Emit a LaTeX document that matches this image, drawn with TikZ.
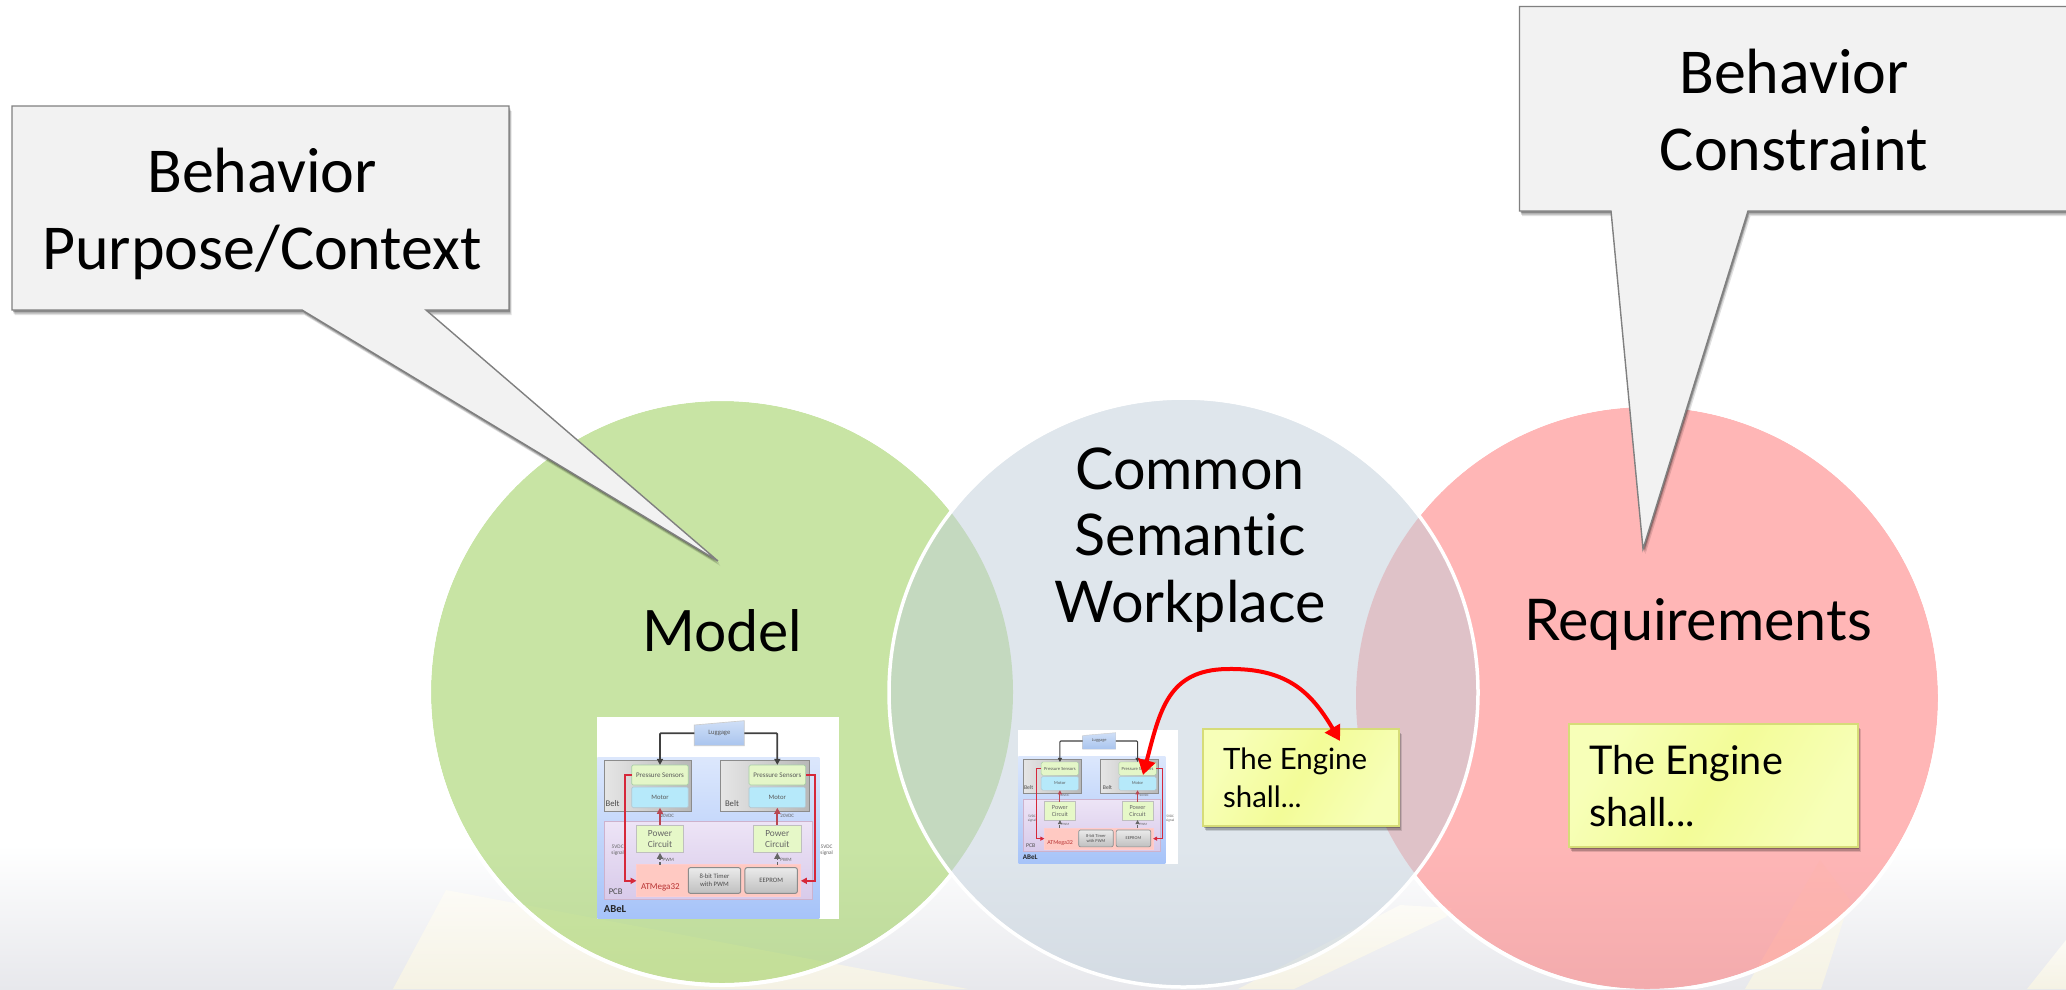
\documentclass[tikz,border=0pt]{standalone}
\usepackage{fontspec}
\usetikzlibrary{arrows.meta,shadows,calc}
\newfontfamily\calloutfont[Ligatures=NoCommon]{Carlito}
\newfontfamily\gillfont[Ligatures=NoCommon]{Lato}
\definecolor{gcirc}{HTML}{93CB4B}
\definecolor{rcirc}{HTML}{FF6F6F}
\definecolor{mcirc}{HTML}{C1CFDB}
\definecolor{paleyellow}{HTML}{F5F2E4}
\definecolor{paleyellowtop}{HTML}{FCFBF6}
\definecolor{bgbottom}{HTML}{E7E8EC}
\newcommand\abox[7]{%
  \pgfmathsetmacro\abcx{(#2+#4)/2}\pgfmathsetmacro\abcy{(#3+#5)/2}%
  \node[#6,inner sep=0pt,align=center,minimum width={(#4-#2)*1pt},minimum height={(#5-#3)*1pt}] (#1) at (\abcx,\abcy) {#7};}
\newcommand\abfont[1]{\fontsize{#1}{\the\dimexpr #1pt*12/10\relax}\selectfont}
\tikzset{
  softshadow/.style={general shadow={shadow xshift=2.5pt,shadow yshift=-5pt,fill=black,opacity=.12},
                     general shadow={shadow xshift=1.5pt,shadow yshift=-3.5pt,fill=black,opacity=.18},
                     general shadow={shadow xshift=1pt,shadow yshift=-2pt,fill=black,opacity=.25}},
  calloutshape/.style={softshadow,draw=black!50,line width=1.4pt,fill=black!5,line join=miter},
  calloutlabel/.style={font=\calloutfont,align=center,inner sep=0pt,text=black},
  circlabel/.style={font=\gillfont,align=center,inner sep=0pt,text=black},
  notebox/.style={softshadow,draw=notedge,line width=1.6pt,top color=noteA,bottom color=noteA,middle color=noteB,shading angle=60,inner sep=0pt},
  notelabel/.style={font=\gillfont,align=left,inner sep=0pt,text=black},
  yellowband/.style={top color=paleyellowtop,bottom color=paleyellow},
  ablabel/.style={font=\calloutfont,text=black!62,transform shape},
  abbelt/.style={transform shape,draw=black!45,line width=\abelk*3pt,left color=black!10,right color=black!28},
  abpress/.style={transform shape,draw=green!45!black!35,line width=\abelk*2pt,fill=abpressc,rounded corners=1.5pt,font=\calloutfont\abfont{21},text=black!65},
  abmotor/.style={transform shape,draw=cyan!40!black!35,line width=\abelk*2pt,fill=abmotorc,rounded corners=1.5pt,font=\calloutfont\abfont{20},text=black!65},
  abpower/.style={transform shape,draw=black!25,line width=\abelk*2pt,fill=abpowerc,font=\calloutfont\abfont{28},text=black!60},
  abpcb/.style={transform shape,draw=black!30!violet!30,line width=\abelk*3pt,top color=abpcbA,bottom color=abpcbB},
  abatm/.style={transform shape,draw=red!20,line width=\abelk*3pt,fill=abatmc},
  abgray/.style={transform shape,draw=black!45,line width=\abelk*3pt,top color=black!8,bottom color=black!25,rounded corners=2pt,font=\calloutfont\abfont{20},text=black!70},
  abred/.style={draw=abredc,line width=\abelk*5pt,-{Triangle[length=\abeltip,width=\abeltip]}},
  abpale/.style={draw=abredc!65!gray,line width=\abelk*5pt,-{Triangle[length=\abeltip,width=\abeltip]}},
  abblack/.style={draw=black!75,line width=\abelk*5pt,-{Triangle[length=\abeltip,width=\abeltip]}},
  abdark/.style={draw=black!60,line width=\abelk*4pt,densely dashed,-{Triangle[length=\abeltip,width=\abeltip]}},
  pics/abel/.style={code={
    \pgfmathsetlengthmacro\abeltip{\abelk*18pt}
    \fill[white] (50,50) rectangle (777,657);
    \shade[top color=abblueA,bottom color=abblueB] (52,172) rectangle (718,657);
    \abox{-belt1}{72}{182}{335}{335}{abbelt}{}
    \abox{-belt2}{423}{182}{688}{335}{abbelt}{}
    \abox{-pcb}{72}{365}{697}{600}{abpcb}{}
    \shade[top color=abluga,bottom color=ablugb,draw=black!20,line width=\abelk*2pt] (343,75) -- (493,62) -- (493,137) -- (343,137) -- cycle;
    \abox{-lug}{343}{62}{493}{137}{transform shape,font=\calloutfont\abfont{20},text=black!65}{Luggage}
    \abox{-ps1}{155}{195}{325}{255}{abpress}{Pressure Sensors}
    \abox{-ps2}{507}{195}{677}{255}{abpress}{Pressure Sensors}
    \abox{-m1}{155}{261}{325}{323}{abmotor}{Motor}
    \abox{-m2}{507}{261}{677}{323}{abmotor}{Motor}
    \abox{-pc1}{170}{375}{310}{458}{abpower}{Power\\Circuit}
    \abox{-pc2}{521}{375}{663}{458}{abpower}{Power\\Circuit}
    \abox{-atm}{170}{495}{662}{590}{abatm}{}
    \abox{-tim}{325}{503}{482}{580}{abgray}{8-bit Timer\\with PWM}
    \abox{-eep}{495}{503}{652}{580}{abgray}{EEPROM}
    \node[ablabel,font=\calloutfont\abfont{27},text=red!65!black!80] (-atl) at (241,563) {ATMega32};
    \node[ablabel,font=\calloutfont\abfont{26},text=black!70] (-bl1) at (98,312) {Belt};
    \node[ablabel,font=\calloutfont\abfont{26},text=black!70] (-bl2) at (456,312) {Belt};
    \node[ablabel,font=\calloutfont\abfont{26},text=black!70] (-pcl) at (107,576) {PCB};
    \node[ablabel,font=\calloutfont\bfseries\abfont{32},text=black!85] (-abl) at (105,628) {ABeL};
    \node[ablabel,font=\calloutfont\abfont{15}] (-v1) at (262,348) {20VDC};
    \node[ablabel,font=\calloutfont\abfont{15}] (-v2) at (622,348) {20VDC};
    \node[ablabel,font=\calloutfont\abfont{15}] (-p1) at (265,479) {PWM};
    \node[ablabel,font=\calloutfont\abfont{15}] (-p2) at (618,479) {PWM};
    \node[ablabel,font=\calloutfont\abfont{16},align=center] (-s1) at (113,451) {5VDC\\signal};
    \node[ablabel,font=\calloutfont\abfont{16},align=center] (-s2) at (740,451) {5VDC\\signal};
    \draw[abblack,rounded corners=1pt] (-lug.west) -| (-ps1.north);
    \draw[abblack,rounded corners=1pt] (-lug.east) -| (-ps2.north);
    \draw[abred] (-ps1.west) -- ++(-20,0) |- (-atm.west);
    \draw[abred] (-ps2.east) -- ++(28,0) |- (-atm.east);
    \draw[abpale] (-pc1.north) -- (-m1.south);
    \draw[abpale] (-pc2.north) -- (-m2.south);
    \draw[abdark] (-pc1.south |- -atm.north) -- (-pc1.south);
    \draw[abdark] (-pc2.south |- -atm.north) -- (-pc2.south);
  }}
}
\definecolor{notedge}{HTML}{D6DC78}
\definecolor{noteA}{HTML}{F7FFB8}
\definecolor{noteB}{HTML}{F3FC98}
\definecolor{abpressc}{HTML}{E4F6C8}
\definecolor{abmotorc}{HTML}{B6E9FA}
\definecolor{abpowerc}{HTML}{E6F8C8}
\definecolor{abpcbA}{HTML}{EDE4F6}
\definecolor{abpcbB}{HTML}{D8CAEA}
\definecolor{abatmc}{HTML}{FFC9C2}
\definecolor{abblueA}{HTML}{DCE7FC}
\definecolor{abblueB}{HTML}{A6C3F9}
\definecolor{abluga}{HTML}{CFDFF7}
\definecolor{ablugb}{HTML}{A9C4EE}
\definecolor{abredc}{HTML}{D6283A}
\begin{document}
\begin{tikzpicture}[x=1pt,y=-1pt]
\useasboundingbox (0,0) rectangle (2066,989);
\clip (0,0) rectangle (2066,989);
% background
\fill[white] (0,0) rectangle (2066,989);
\shade[top color=white,bottom color=bgbottom] (0,845) rectangle (2066,989);
\shade[yellowband] (446,890) -- (968,989) -- (393,989) -- cycle;
\shade[yellowband] (1238,989) -- (1294,989) -- (1446,917) -- (1452,908) -- (1400,905) -- cycle;
\shade[yellowband] (1745,989) -- (1821,989) -- (1850,900) -- (1820,860) -- cycle;
\shade[yellowband] (2027,989) -- (2066,940) -- (2066,989) -- cycle;
% circles
\fill[gcirc,opacity=.5] (722,692) circle[radius=291];
\fill[rcirc,opacity=.5] (1647,698) circle[radius=291];
\begin{scope}[even odd rule]
  \clip (0,0) rectangle (2066,989) (1183.5,692.5) circle[radius=294];
  \draw[white,line width=4pt] (722,692) circle[radius=293];
  \draw[white,line width=4pt] (1647,698) circle[radius=293];
\end{scope}
\fill[mcirc,opacity=.5] (1183.5,692.5) circle[radius=293];
\draw[white,line width=3.5pt] (1183.5,692.5) circle[radius=294.5];
% labels in circles
\node[circlabel,font=\gillfont\fontsize{57}{66.5}\selectfont] (model) at (722,631) {Model};
\node[circlabel,font=\gillfont\fontsize{57.5}{66.5}\selectfont] (req) at (1698,624) {Requirements};
\node[circlabel,font=\gillfont\fontsize{57.5}{66.5}\selectfont] (common) at (1190,540) {Common\\Semantic\\Workplace};
% pictures
\def\abelk{.3333}
\pic[scale=.3333] (mdl) at (580,700) {abel};
\def\abelk{.2205}
\pic[scale=.2205] (csw) at (1007,719) {abel};
% notes
\node[notebox,minimum width=196pt,minimum height=97pt] (note1) at (1301,777.5) {};
\node[notelabel,font=\gillfont\fontsize{29.4}{38}\selectfont,anchor=west] (note1t) at (1223,778) {The Engine\\shall...};
\node[notebox,minimum width=289pt,minimum height=123pt] (note2) at (1713.5,785.5) {};
\node[notelabel,font=\gillfont\fontsize{39.6}{52}\selectfont,anchor=west] (note2t) at (1589,786) {The Engine\\shall...};
% arrow between the picture and the note
\coordinate (arrA) at (1143,775);
\coordinate (arrB) at (1340,741);
\draw[red,line width=4pt,{Triangle[length=15pt,width=17pt]}-{Triangle[length=15pt,width=17pt]}]
  (arrA) .. controls (1160,710) and (1168,670) .. (1227,669) .. controls (1285,668) and (1310,690) .. (arrB);
% callouts
\draw[calloutshape] (12,106) -- (509,106) -- (509,310) -- (426,310) -- (718,561) -- (302,310) -- (12,310) -- cycle;
\node[calloutlabel,font=\calloutfont\fontsize{64}{77}\selectfont] (cl1) at (262,214) {Behavior\\Purpose/Context};
\draw[calloutshape] (1519.5,6.5) -- (2080,6.5) -- (2080,211) -- (1748,211) -- (1643,549) -- (1611,211) -- (1519.5,211) -- cycle;
\node[calloutlabel,font=\calloutfont\fontsize{64}{77}\selectfont] (cl2) at (1794,110) {Behavior\\Constraint};
\end{tikzpicture}
\end{document}
